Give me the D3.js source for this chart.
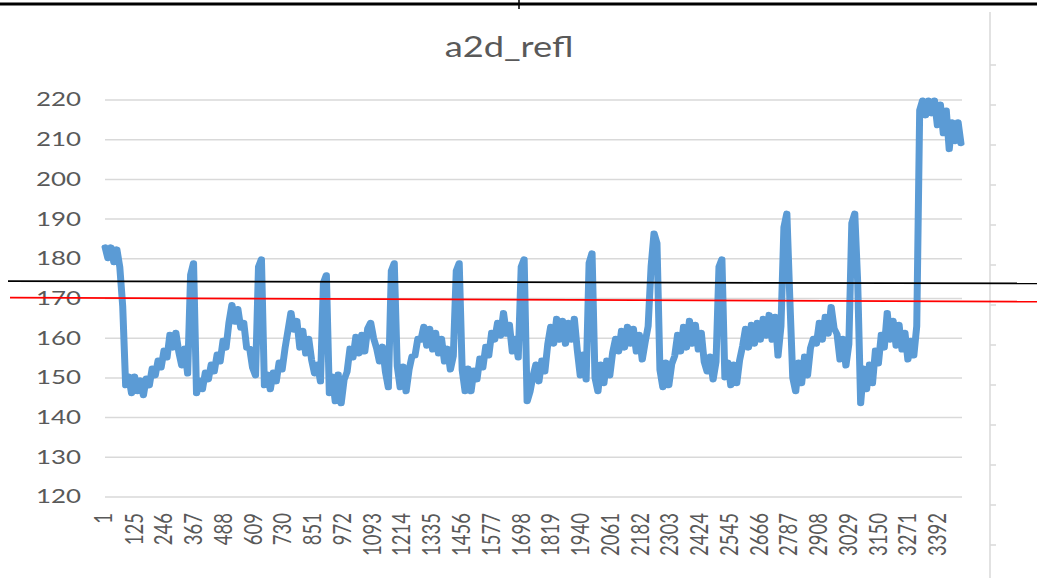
<!DOCTYPE html>
<html>
<head>
<meta charset="utf-8">
<script src="https://cdn.jsdelivr.net/npm/d3@7"></script>
<style>
  html, body { margin: 0; padding: 0; background: #fff; }
  svg { display: block; }
</style>
</head>
<body>
<div id="chart"></div>
<script>
// chart values
const title = "a2d_refl";
const yTicks = [120, 130, 140, 150, 160, 170, 180, 190, 200, 210, 220];
const xTickLabels = [1, 125, 246, 367, 488, 609, 730, 851, 972, 1093, 1214, 1335, 1456, 1577, 1698,
  1819, 1940, 2061, 2182, 2303, 2424, 2545, 2666, 2787, 2908, 3029, 3150, 3271, 3392];
const pointCount = 3485;   // categories on the x axis
const sampleStep = 12;     // one value read every 12 categories
const refl = [
  183, 180, 183, 179, 182.5, 178,
  168, 148,
  150.5, 146, 150.5, 146.5, 149.5, 145.5,
  150, 148, 152.5, 150.5, 154.5, 152.5, 157, 155,
  161, 157.5, 161.5, 156.5,
  153, 157.5, 151,
  176, 179, 146,
  149.5, 147, 151.5, 149.5, 153.5, 151.5, 156,
  154, 159.5, 157.5,
  164, 168.5, 164, 167.5, 162.5,
  164, 157.5, 157.5, 152.5,
  150.5,
  178, 180, 148,
  151, 147, 151.5, 149, 154, 152,
  157.5, 162, 166.5, 162, 164.5,
  157.5, 162, 156, 160, 154.5,
  151, 153.5, 149,
  174, 176, 146,
  150.5, 144, 151, 143.5, 149.5,
  151.5, 157.5, 155, 160.5,
  156, 161, 156.5,
  162.5, 164, 160,
  157.5, 154, 158, 151.5,
  147.5, 177, 179, 153,
  147.5, 153, 146.5,
  152, 155.5, 155.5, 160, 159.5,
  163, 158, 162.5, 157, 161.5, 156, 160,
  154, 157.5, 152, 155.5,
  177, 179, 152,
  146.5, 152.5, 146.5, 152, 149.5,
  155, 152.5, 158, 155.5, 161.5,
  159.5, 164, 160.5, 166.5, 161,
  163.5, 156.5, 160, 155,
  178, 180, 144, 146.5,
  150.5, 153.5, 149, 154.5, 151.5,
  158.5, 163, 158.5, 165, 159.5, 164.5, 158.5, 164, 159.5, 165,
  157, 150.5, 156, 149.5,
  179, 181.5, 150,
  146.5, 153.5, 148.5,
  154.5, 150.5,
  156.5, 160, 156.5, 162, 157.5, 163, 158.5, 162.5, 156.5, 161, 154.5,
  159, 163,
  178, 186.5, 184, 152,
  147.5, 154, 148, 153.5,
  155.5, 161, 156.5, 163, 157.5, 164.5, 158.5, 163.5, 157, 161.5,
  154, 151.5, 155.5, 149.5, 154,
  178, 180, 150,
  154, 148, 153.5, 148.5, 154.5,
  158, 162.5, 157.5, 163.5, 158.5, 164, 159.5, 165, 160.5, 166,
  159.5, 165.5, 155.5, 163,
  188, 191.5, 170, 150,
  146.5, 154, 148.5,
  155.5, 150.5,
  157.5, 160, 158.5, 164, 159.5, 165.5, 161, 168, 162.5,
  161, 154.5, 160, 153, 158.5,
  189, 191.5, 174, 143.5,
  152.5, 147, 153.5, 148.5,
  157, 153.5, 161, 157.5, 166.5,
  159.5, 164.5, 158, 163.5, 157, 161.5,
  154.5, 159.5, 155.5, 163,
  217.5,
  220, 216, 220, 216.5, 220,
  213.5, 219, 211.5, 217.5, 207.5, 214.5, 209.5, 214.5, 209
];
// hand drawn reference lines (value at left edge, value at right edge)
const blackLine = [174.4, 173.8];
const redLine = [170.2, 169.2];

const width = 1037, height = 578;
const stretch = 1.4;   // the screenshot is stretched sideways
const font = "Lato, 'Open Sans', sans-serif";
const textColor = "#595959";

const svg = d3.select("#chart").append("svg")
  .attr("width", width)
  .attr("height", height)
  .style("background", "#fff");

const x = d3.scaleLinear().domain([1, pointCount]).range([105, 962]);
const y = d3.scaleLinear().domain([120, 220]).range([497, 100]);

// top border of the page
svg.append("line")
  .attr("x1", 0).attr("x2", width).attr("y1", 4).attr("y2", 4)
  .attr("stroke", "#000").attr("stroke-width", 3);
svg.append("line")
  .attr("x1", 519).attr("x2", 519).attr("y1", 0).attr("y2", 9)
  .attr("stroke", "#000").attr("stroke-width", 1.5);

// right hand secondary axis line with little ticks
svg.append("line")
  .attr("x1", 990).attr("x2", 990).attr("y1", 12).attr("y2", height)
  .attr("stroke", "#d9d9d9").attr("stroke-width", 1.5);
svg.append("g").selectAll("line")
  .data(d3.range(65, height, 40))
  .join("line")
  .attr("x1", 990).attr("x2", 996)
  .attr("y1", d => d).attr("y2", d => d)
  .attr("stroke", "#d9d9d9").attr("stroke-width", 1.5);

// gridlines
svg.append("g").selectAll("line")
  .data(yTicks)
  .join("line")
  .attr("x1", x.range()[0]).attr("x2", x.range()[1])
  .attr("y1", d => y(d)).attr("y2", d => y(d))
  .attr("stroke", "#d9d9d9").attr("stroke-width", 1.5);

// y labels
svg.append("g").selectAll("text")
  .data(yTicks)
  .join("text")
  .attr("transform", d => `translate(81,${y(d)}) scale(${stretch},1)`)
  .attr("dy", "0.35em")
  .attr("text-anchor", "end")
  .attr("font-family", font)
  .attr("font-size", 18.5)
  .attr("fill", textColor)
  .text(d => d);

// x labels, rotated
svg.append("g").selectAll("text")
  .data(xTickLabels)
  .join("text")
  .attr("transform", d => `translate(${x(d) - 2},513) scale(${stretch},1) rotate(-90)`)
  .attr("dy", "0.35em")
  .attr("text-anchor", "end")
  .attr("font-family", font)
  .attr("font-size", 18.5)
  .attr("fill", textColor)
  .text(d => d);

// title
svg.append("text")
  .attr("transform", `translate(509,57) scale(1.25,1)`)
  .attr("text-anchor", "middle")
  .attr("font-family", font)
  .attr("font-size", 29)
  .attr("fill", textColor)
  .text(title);

// the series
const points = refl.map((v, i) => ({ cat: 1 + i * sampleStep, v }));
const line = d3.line()
  .x(d => x(d.cat) / stretch)
  .y(d => y(d.v));
svg.append("g")
  .attr("transform", `scale(${stretch},1)`)
  .append("path")
  .datum(points)
  .attr("d", line)
  .attr("fill", "none")
  .attr("stroke", "#5b9bd5")
  .attr("stroke-width", 5)
  .attr("stroke-linejoin", "round")
  .attr("stroke-linecap", "round");

// black and red reference lines drawn over the chart
svg.append("line")
  .attr("x1", 8).attr("x2", width)
  .attr("y1", y(blackLine[0])).attr("y2", y(blackLine[1]))
  .attr("stroke", "#000").attr("stroke-width", 1.8);
svg.append("line")
  .attr("x1", 10).attr("x2", width)
  .attr("y1", y(redLine[0])).attr("y2", y(redLine[1]))
  .attr("stroke", "#ff0000").attr("stroke-width", 1.8);
</script>
</body>
</html>
